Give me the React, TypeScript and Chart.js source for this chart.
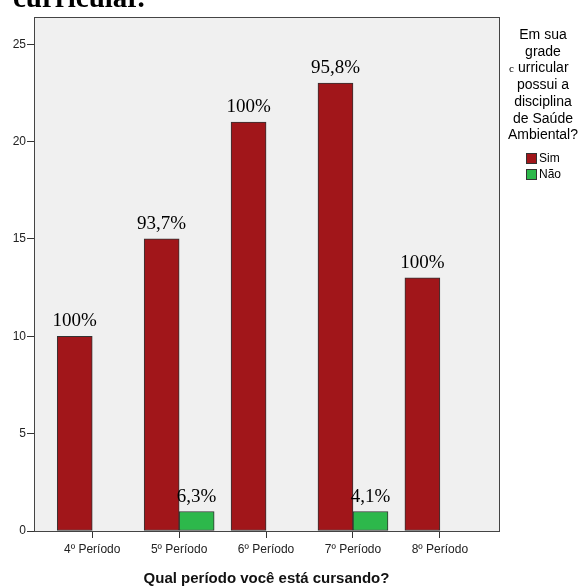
import React, { useEffect, useRef } from "react";
import { Chart, registerables } from "chart.js";

Chart.register(...registerables);

const categories = ["4º Período", "5º Período", "6º Período", "7º Período", "8º Período"];
const simValues: (number | null)[] = [10, 15, 21, 23, 13];
const naoValues: (number | null)[] = [null, 1, null, 1, null];
const simLabels = ["100%", "93,7%", "100%", "95,8%", "100%"];
const naoLabels = ["", "6,3%", "", "4,1%", ""];
const yTicks = [0, 5, 10, 15, 20, 25];
const legendTitle = ["Em sua", "grade", "curricular", "possui a", "disciplina", "de Saúde", "Ambiental?"];
const seriesNames = ["Sim", "Não"];
const xAxisTitle = "Qual período você está cursando?";
const cutTitle = "curricular.";

const RED = "#a1161a";
const GREEN = "#2db84b";
const SANS = "'Liberation Sans', Arial, sans-serif";
const SERIF = "'Liberation Serif', 'Times New Roman', serif";

export default function App() {
  const ref = useRef<HTMLCanvasElement | null>(null);

  useEffect(() => {
    if (!ref.current) return;

    const framePlugin = {
      id: "frame",
      beforeDraw(chart: any) {
        const { ctx, chartArea: a } = chart;
        ctx.save();
        ctx.fillStyle = "#f0f0f0";
        ctx.fillRect(a.left, a.top, a.right - a.left, a.bottom - a.top);
        ctx.restore();
      },
      afterDraw(chart: any) {
        const { ctx, chartArea: a } = chart;
        ctx.save();
        ctx.strokeStyle = "#444";
        ctx.lineWidth = 1;
        ctx.strokeRect(Math.round(a.left) + 0.5, Math.round(a.top) + 0.5, Math.round(a.right - a.left), Math.round(a.bottom - a.top));
        // cut-off caption at top
        ctx.fillStyle = "#000";
        ctx.font = `bold 29px ${SERIF}`;
        ctx.textAlign = "left";
        ctx.textBaseline = "alphabetic";
        ctx.fillText(cutTitle, 13, 7);
        // legend
        ctx.font = `14px ${SANS}`;
        ctx.textBaseline = "middle";
        const cx = 543;
        legendTitle.forEach((line, i) => {
          const y = 35 + i * 16.75;
          if (line === "curricular") {
            ctx.textAlign = "left";
            ctx.font = `11px ${SERIF}`;
            ctx.fillText("c", 509, y + 1);
            ctx.font = `14px ${SANS}`;
            ctx.fillText("urricular", 518, y);
          } else {
            ctx.textAlign = "center";
            ctx.fillText(line, cx, y);
          }
        });
        const colors = [RED, GREEN];
        seriesNames.forEach((name, i) => {
          const y = 153 + i * 16;
          ctx.fillStyle = colors[i];
          ctx.fillRect(526, y, 11, 11);
          ctx.strokeStyle = "#333";
          ctx.strokeRect(526.5, y + 0.5, 10, 10);
          ctx.fillStyle = "#000";
          ctx.font = `12px ${SANS}`;
          ctx.textAlign = "left";
          ctx.fillText(name, 539, y + 6);
        });
        ctx.restore();
      },
      afterDatasetsDraw(chart: any) {
        const { ctx } = chart;
        const labels = [simLabels, naoLabels];
        ctx.save();
        ctx.font = `19px ${SERIF}`;
        ctx.fillStyle = "#000";
        ctx.textAlign = "center";
        ctx.textBaseline = "alphabetic";
        labels.forEach((arr, di) => {
          const meta = chart.getDatasetMeta(di);
          meta.data.forEach((el: any, j: number) => {
            const t = arr[j];
            if (!t || !isFinite(el.y)) return;
            ctx.fillText(t, el.x, el.y - 10);
          });
        });
        ctx.restore();
      },
    };

    const chart = new Chart(ref.current, {
      type: "bar",
      data: {
        datasets: [
          {
            label: seriesNames[0],
            data: simValues.map((v, i) => ({ x: i, y: v })) as any,
            backgroundColor: RED,
            borderColor: "#333",
            borderWidth: 1,
            borderSkipped: false,
            barThickness: 35,
          },
          {
            label: seriesNames[1],
            data: naoValues.map((v, i) => ({ x: i, y: v })) as any,
            backgroundColor: GREEN,
            borderColor: "#333",
            borderWidth: 1,
            borderSkipped: false,
            barThickness: 35,
          },
        ],
      },
      options: {
        animation: false,
        responsive: false,
        maintainAspectRatio: false,
        layout: { padding: { top: 17, right: 82, left: 0, bottom: 0 } },
        plugins: { legend: { display: false }, tooltip: { enabled: false } },
        scales: {
          x: {
            type: "linear",
            min: -0.67,
            max: 4.68,
            offset: false,
            afterBuildTicks: (s: any) => {
              s.ticks = categories.map((_, i) => ({ value: i }));
            },
            afterFit: (s: any) => {
              s.height = 57;
            },
            grid: { offset: false, drawOnChartArea: false, drawTicks: true, tickLength: 7, color: "#333" },
            border: { display: true, color: "#333" },
            ticks: {
              autoSkip: false,
              maxRotation: 0,
              padding: 4,
              color: "#222",
              font: { family: SANS, size: 12 },
              callback: (v: any) => categories[Number(v)] ?? "",
            },
            title: {
              display: true,
              text: xAxisTitle,
              color: "#111",
              font: { family: SANS, size: 15, weight: "bold" },
              padding: { top: 0, bottom: 0 },
            },
          },
          y: {
            min: 0,
            max: 26.4,
            afterBuildTicks: (s: any) => {
              s.ticks = yTicks.map((v) => ({ value: v }));
            },
            afterFit: (s: any) => {
              s.width = 34;
            },
            grid: { drawOnChartArea: false, drawTicks: true, tickLength: 7, color: "#333" },
            border: { display: true, color: "#333" },
            ticks: {
              padding: 1,
              color: "#222",
              font: { family: SANS, size: 12 },
            },
          },
        },
      },
      plugins: [framePlugin],
    } as any);

    return () => chart.destroy();
  }, []);

  return (
    <div style={{ position: "absolute", left: 0, top: 0, width: 581, height: 588, background: "#fff" }}>
      <canvas ref={ref} width={581} height={588} style={{ display: "block", width: 581, height: 588 }} />
    </div>
  );
}
